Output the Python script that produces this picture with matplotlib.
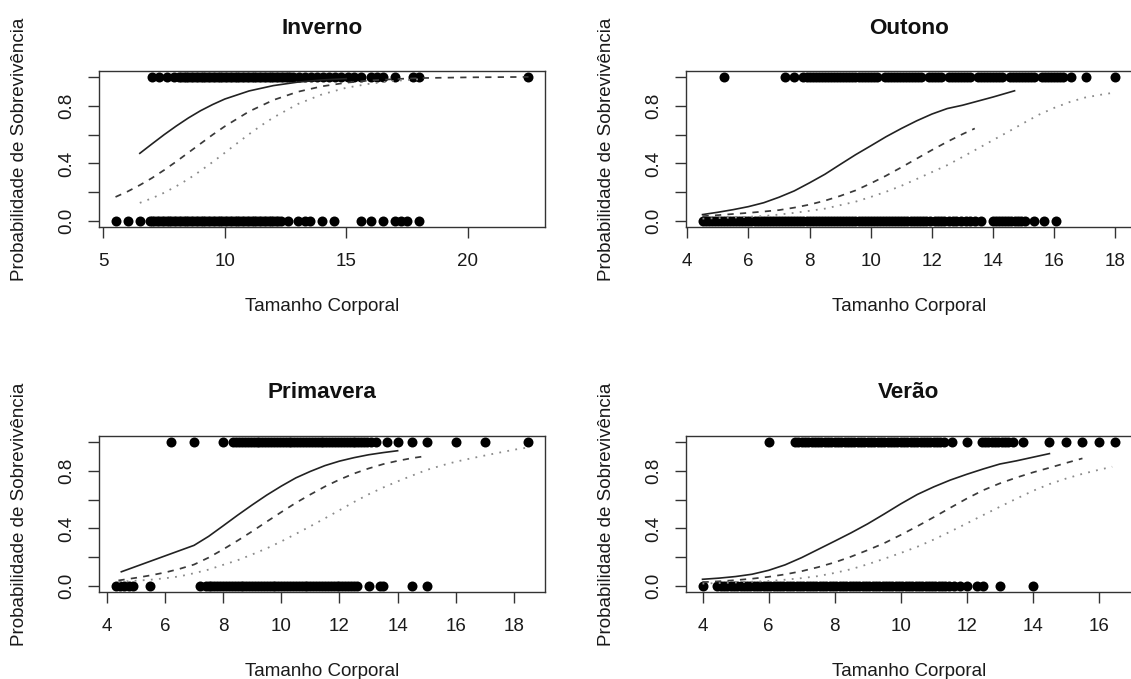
import matplotlib
matplotlib.use("Agg")
import matplotlib.pyplot as plt
import numpy as np

plt.rcParams['font.family'] = ['Liberation Sans', 'DejaVu Sans']
plt.rcParams['font.size'] = 13.5

# ---- Inverno ----
inv_vivos = [7.0, 7.3, 7.6, 7.9,
             8.1, 8.2, 8.3, 8.4, 8.5, 8.6, 8.7, 8.8, 8.9, 9.0, 9.1, 9.2, 9.3, 9.4,
             9.5, 9.6, 9.7, 9.8, 9.9, 10.0, 10.1, 10.2, 10.3, 10.4, 10.5, 10.6, 10.7,
             10.8, 10.9, 11.0, 11.1, 11.2, 11.3, 11.4, 11.5, 11.6, 11.7, 11.8, 11.9,
             12.0, 12.1, 12.2, 12.3, 12.4, 12.5, 12.6, 12.7, 12.8,
             13.05, 13.3, 13.55, 13.8, 14.05, 14.3, 14.55, 14.8, 15.05, 15.3, 15.6,
             16.0, 16.25, 16.5, 17.0, 17.75, 18.0, 22.5]
inv_mortos = [5.5, 6.0, 6.5,
              6.9, 7.0, 7.1, 7.2, 7.3, 7.4, 7.5, 7.6, 7.7, 7.8, 7.9, 8.0, 8.1, 8.2,
              8.3, 8.4, 8.5, 8.6, 8.7, 8.8, 8.9, 9.0, 9.1, 9.2, 9.3, 9.4, 9.5, 9.6,
              9.7, 9.8, 9.9, 10.0, 10.1, 10.2, 10.3, 10.4, 10.5, 10.6, 10.7, 10.8,
              10.9, 11.0, 11.1, 11.2, 11.3, 11.4, 11.5, 11.6, 11.7, 11.8, 11.9, 12.0,
              12.1, 12.2, 12.3,
              12.6, 13.0, 13.3, 13.5, 14.0, 14.5, 15.6, 16.0, 16.5, 17.0, 17.25, 17.5,
              18.0]
inv_x_cheia = [6.5, 7.0, 7.5, 8.0, 8.5, 9.0, 9.5, 10.0, 11.0, 12.0, 13.0, 14.0, 15.0]
inv_y_cheia = [0.470, 0.535, 0.599, 0.659, 0.715, 0.765, 0.808, 0.846, 0.902, 0.939,
               0.963, 0.978, 0.987]
inv_x_trac = [5.5, 6.0, 6.5, 7.0, 7.5, 8.0, 8.5, 9.0, 9.5, 10.0, 11.0, 12.0, 13.0,
              14.0, 15.0, 16.0, 17.0, 18.0, 20.0, 22.5]
inv_y_trac = [0.168, 0.206, 0.250, 0.299, 0.354, 0.413, 0.475, 0.537, 0.599, 0.657,
              0.760, 0.839, 0.896, 0.934, 0.959, 0.975, 0.984, 0.991, 0.996, 0.999]
inv_x_pont = [6.5, 7.0, 7.5, 8.0, 8.5, 9.0, 9.5, 10.0, 10.5, 11.0, 11.5, 12.0, 13.0,
              14.0, 15.0, 16.0, 17.0, 18.0]
inv_y_pont = [0.127, 0.159, 0.197, 0.242, 0.292, 0.349, 0.410, 0.474, 0.539, 0.603,
              0.663, 0.718, 0.811, 0.878, 0.924, 0.953, 0.972, 0.983]

# ---- Outono ----
out_vivos = [5.2, 7.2, 7.5,
             7.8, 7.9, 8.0, 8.1, 8.2, 8.3, 8.4, 8.5, 8.6, 8.7, 8.8, 8.9, 9.0, 9.1,
             9.2, 9.3, 9.4, 9.5, 9.6, 9.7, 9.8, 9.9, 10.0, 10.1, 10.2,
             10.45, 10.55, 10.65, 10.75, 10.85, 10.95, 11.05, 11.15, 11.25, 11.35,
             11.45, 11.55, 11.65,
             11.9, 12.0, 12.1, 12.2, 12.3,
             12.55, 12.65, 12.75, 12.85, 12.95, 13.05, 13.15, 13.25,
             13.5, 13.6, 13.7, 13.8, 13.9, 14.0, 14.1, 14.2, 14.3,
             14.55, 14.65, 14.75, 14.85, 14.95, 15.05, 15.15, 15.25, 15.35,
             15.6, 15.7, 15.8, 15.9, 16.0, 16.1, 16.2, 16.3,
             16.55, 17.05, 18.0]
out_mortos = [4.5, 4.6, 4.7, 4.8, 4.9, 5.0, 5.1, 5.2, 5.3, 5.4, 5.5, 5.6, 5.7, 5.8,
              5.9, 6.0, 6.1, 6.2, 6.3, 6.4, 6.5, 6.6, 6.7, 6.8, 6.9, 7.0, 7.1, 7.2,
              7.3, 7.4, 7.5, 7.6, 7.7, 7.8, 7.9, 8.0, 8.1, 8.2, 8.3, 8.4, 8.5, 8.6,
              8.7, 8.8, 8.9, 9.0, 9.1, 9.2, 9.3, 9.4, 9.5, 9.6, 9.7, 9.8, 9.9, 10.0,
              10.1, 10.2, 10.3, 10.4, 10.5, 10.6, 10.7, 10.8, 10.9, 11.0, 11.1, 11.2,
              11.3, 11.4, 11.5, 11.6, 11.7, 11.8,
              11.95, 12.1, 12.2, 12.3, 12.4, 12.55, 12.7, 12.8, 12.95, 13.1, 13.25,
              13.4, 13.6,
              14.0, 14.1, 14.2, 14.3, 14.4, 14.5, 14.6, 14.7, 14.8, 14.9, 15.05,
              15.35, 15.65, 16.05]
out_x_cheia = [4.5, 5.0, 5.5, 6.0, 6.5, 7.0, 7.5, 8.0, 8.5, 9.0, 9.5, 10.0, 10.5,
               11.0, 11.5, 12.0, 12.5, 13.0, 14.0, 14.7]
out_y_cheia = [0.046, 0.062, 0.080, 0.101, 0.128, 0.166, 0.210, 0.266, 0.325, 0.393,
               0.460, 0.522, 0.585, 0.642, 0.695, 0.742, 0.780, 0.803, 0.860, 0.903]
out_x_trac = [4.5, 5.0, 5.5, 6.0, 6.5, 7.0, 7.5, 8.0, 8.5, 9.0, 9.5, 10.0, 10.5,
              11.0, 11.5, 12.0, 12.5, 13.0, 13.4]
out_y_trac = [0.035, 0.042, 0.050, 0.058, 0.067, 0.077, 0.094, 0.115, 0.142, 0.175,
              0.213, 0.262, 0.315, 0.373, 0.433, 0.493, 0.550, 0.603, 0.642]
out_x_pont = [4.5, 5.5, 6.5, 7.0, 7.5, 8.0, 8.5, 9.0, 9.5, 10.0, 10.5, 11.0, 11.5,
              12.0, 12.5, 13.0, 13.5, 14.0, 14.5, 15.0, 15.5, 16.0, 16.5, 17.0, 17.5,
              18.0]
out_y_pont = [0.018, 0.025, 0.036, 0.046, 0.058, 0.072, 0.087, 0.111, 0.135, 0.168,
              0.204, 0.245, 0.292, 0.340, 0.388, 0.445, 0.503, 0.562, 0.620, 0.680,
              0.738, 0.785, 0.825, 0.856, 0.875, 0.892]

# ---- Primavera ----
pri_vivos = [6.2, 7.0, 8.0,
             8.35, 8.45, 8.55, 8.65, 8.75, 8.85, 8.95, 9.05, 9.15, 9.25, 9.35, 9.45,
             9.55, 9.65, 9.75, 9.85, 9.95, 10.05, 10.15, 10.25, 10.35, 10.45, 10.55,
             10.65, 10.75, 10.85, 10.95, 11.05, 11.15, 11.25, 11.35, 11.45, 11.55,
             11.65, 11.75, 11.85, 11.95, 12.05, 12.15, 12.25, 12.35, 12.45, 12.55,
             12.65, 12.75, 12.85, 12.95, 13.1, 13.25,
             13.65, 14.0, 14.5, 15.0, 16.0, 17.0, 18.5]
pri_mortos = [4.3, 4.45, 4.6, 4.75, 4.9, 5.5, 7.2,
              7.4, 7.5, 7.6, 7.7, 7.8, 7.9, 8.0, 8.1, 8.2, 8.3, 8.4, 8.5, 8.6, 8.7,
              8.8, 8.9, 9.0, 9.1, 9.2, 9.3, 9.4, 9.5, 9.6, 9.7, 9.8, 9.9, 10.0, 10.1,
              10.2, 10.3, 10.4, 10.5, 10.6, 10.7, 10.8, 10.9, 11.0, 11.1, 11.2, 11.3,
              11.4, 11.5, 11.6, 11.7, 11.8, 11.9, 12.0, 12.1, 12.2, 12.3, 12.4, 12.5,
              12.6,
              13.0, 13.4, 13.5, 14.5, 15.0]
pri_x_cheia = [4.5, 7.0, 7.5, 8.0, 8.5, 9.0, 9.5, 10.0, 10.5, 11.0, 11.5, 12.0, 12.5,
               13.0, 13.5, 14.0]
pri_y_cheia = [0.100, 0.283, 0.345, 0.418, 0.492, 0.563, 0.631, 0.693, 0.750, 0.795,
               0.835, 0.866, 0.890, 0.910, 0.925, 0.938]
pri_x_trac = [4.4, 5.0, 5.5, 6.0, 6.5, 7.0, 7.5, 8.0, 8.5, 9.0, 9.5, 10.0, 10.5, 11.0,
              11.5, 12.0, 12.5, 13.0, 13.5, 14.0, 14.5, 14.9]
pri_y_trac = [0.040, 0.058, 0.075, 0.095, 0.120, 0.150, 0.198, 0.255, 0.316, 0.380,
              0.447, 0.513, 0.577, 0.635, 0.690, 0.738, 0.780, 0.815, 0.845, 0.868,
              0.887, 0.899]
pri_x_pont = [4.4, 5.0, 5.5, 6.0, 6.5, 7.0, 7.5, 8.0, 8.5, 9.0, 9.5, 10.0, 10.5, 11.0,
              11.5, 12.0, 12.5, 13.0, 13.5, 14.0, 14.5, 15.0, 15.5, 16.0, 16.5, 17.0,
              17.5, 18.0, 18.5]
pri_y_pont = [0.030, 0.038, 0.045, 0.055, 0.068, 0.090, 0.115, 0.148, 0.180, 0.220,
              0.262, 0.310, 0.362, 0.415, 0.470, 0.526, 0.583, 0.636, 0.683, 0.726,
              0.766, 0.805, 0.835, 0.862, 0.884, 0.905, 0.925, 0.945, 0.961]

# ---- Verão ----
ver_vivos = [6.0,
             6.8, 6.9, 7.0, 7.1, 7.2, 7.3, 7.4, 7.5, 7.6, 7.7, 7.8, 7.9, 8.0, 8.1,
             8.2, 8.3, 8.4, 8.5, 8.6, 8.7, 8.8, 8.9, 9.0, 9.1, 9.2, 9.3, 9.4, 9.5,
             9.6, 9.7, 9.8, 9.9, 10.0, 10.1, 10.2, 10.3, 10.4, 10.5, 10.6, 10.7, 10.8,
             10.9, 11.0, 11.1, 11.2, 11.3,
             11.55, 12.0,
             12.45, 12.55, 12.65, 12.75, 12.85, 12.95, 13.05, 13.15, 13.25, 13.4,
             13.7, 14.5, 15.0, 15.5, 16.0, 16.5]
ver_mortos = [4.0,
              4.45, 4.55, 4.65, 4.75, 4.85, 4.95, 5.05, 5.15, 5.25, 5.35, 5.45, 5.55,
              5.65, 5.75, 5.85, 5.95, 6.05, 6.15, 6.25, 6.35, 6.45, 6.55, 6.65, 6.75,
              6.85, 6.95, 7.05, 7.15, 7.25, 7.35, 7.45, 7.55, 7.65, 7.75, 7.85, 7.95,
              8.05, 8.15, 8.25, 8.35, 8.45, 8.55, 8.65, 8.75, 8.85, 8.95, 9.05, 9.15,
              9.25, 9.35, 9.45, 9.55, 9.65, 9.75, 9.85, 9.95, 10.05, 10.15, 10.25,
              10.35, 10.45, 10.55, 10.65, 10.75, 10.85, 10.95, 11.05, 11.15, 11.25,
              11.35, 11.45, 11.6,
              11.8, 12.0, 12.3, 12.5, 13.0, 14.0]
ver_x_cheia = [4.0, 4.5, 5.0, 5.5, 6.0, 6.5, 7.0, 7.5, 8.0, 8.5, 9.0, 9.5, 10.0, 10.5,
               11.0, 11.5, 12.0, 12.5, 13.0, 13.5, 14.0, 14.5]
ver_y_cheia = [0.048, 0.056, 0.067, 0.083, 0.110, 0.148, 0.198, 0.255, 0.312, 0.370,
               0.432, 0.500, 0.570, 0.635, 0.688, 0.735, 0.775, 0.812, 0.846, 0.868,
               0.893, 0.918]
ver_x_trac = [4.0, 4.5, 5.0, 5.5, 6.0, 6.5, 7.0, 7.5, 8.0, 8.5, 9.0, 9.5, 10.0, 10.5,
              11.0, 11.5, 12.0, 12.5, 13.0, 13.5, 14.0, 14.5, 15.0, 15.5]
ver_y_trac = [0.028, 0.034, 0.042, 0.052, 0.065, 0.082, 0.104, 0.132, 0.165, 0.205,
              0.250, 0.298, 0.355, 0.415, 0.478, 0.543, 0.607, 0.665, 0.712, 0.752,
              0.788, 0.820, 0.853, 0.885]
ver_x_pont = [4.0, 5.0, 6.0, 6.5, 7.0, 7.5, 8.0, 8.5, 9.0, 9.5, 10.0, 10.5, 11.0, 11.5,
              12.0, 12.5, 13.0, 13.5, 14.0, 14.5, 15.0, 15.5, 16.0, 16.4]
ver_y_pont = [0.018, 0.026, 0.036, 0.045, 0.056, 0.070, 0.092, 0.118, 0.152, 0.190,
              0.230, 0.273, 0.323, 0.378, 0.435, 0.493, 0.550, 0.606, 0.660, 0.707,
              0.745, 0.778, 0.806, 0.827]

paineis = [
    ("Inverno", inv_vivos, inv_mortos, (inv_x_cheia, inv_y_cheia),
     (inv_x_trac, inv_y_trac), (inv_x_pont, inv_y_pont), [5, 10, 15, 20]),
    ("Outono", out_vivos, out_mortos, (out_x_cheia, out_y_cheia),
     (out_x_trac, out_y_trac), (out_x_pont, out_y_pont), list(range(4, 19, 2))),
    ("Primavera", pri_vivos, pri_mortos, (pri_x_cheia, pri_y_cheia),
     (pri_x_trac, pri_y_trac), (pri_x_pont, pri_y_pont), list(range(4, 19, 2))),
    ("Verão", ver_vivos, ver_mortos, (ver_x_cheia, ver_y_cheia),
     (ver_x_trac, ver_y_trac), (ver_x_pont, ver_y_pont), list(range(4, 17, 2))),
]

# axes rectangles (left, bottom, width, height) in figure fraction
W, H = 1131, 679
caixas = [
    (99 / W, 1 - 227 / H, 446 / W, 156 / H),
    (686 / W, 1 - 227 / H, 446 / W, 156 / H),
    (99 / W, 1 - 592 / H, 446 / W, 156 / H),
    (686 / W, 1 - 592 / H, 446 / W, 156 / H),
]

fig = plt.figure(figsize=(W / 100, H / 100), dpi=100)
cor_eixo = '#333333'

for (titulo, vivos, mortos, cheia, trac, pont, xticks), caixa in zip(paineis, caixas):
    ax = fig.add_axes(caixa)
    ax.plot(vivos, np.ones(len(vivos)), 'o', color='black', ms=7.2, mew=0, zorder=2)
    ax.plot(mortos, np.zeros(len(mortos)), 'o', color='black', ms=7.2, mew=0, zorder=2)
    ax.plot(*cheia, '-', color='#222222', lw=1.2, zorder=3)
    ax.plot(*trac, color='#3a3a3a', lw=1.25, ls=(0, (3.6, 3.6)), zorder=3)
    ax.plot(*pont, color='#8a8a8a', lw=1.3, ls=(0, (1, 3.5)), zorder=3)

    # R-style 4% padding around the data range
    todos = vivos + mortos
    lo, hi = min(todos), max(todos)
    d = 0.04 * (hi - lo)
    ax.set_xlim(lo - d, hi + d)
    ax.set_ylim(-0.04, 1.04)

    ax.set_xticks(xticks)
    ax.set_xticklabels([str(t) for t in xticks])
    ax.set_yticks([0.0, 0.2, 0.4, 0.6, 0.8, 1.0])
    ax.set_yticklabels(['0.0', '', '0.4', '', '0.8', ''], rotation=90, va='center')
    ax.tick_params(direction='out', length=8, width=1.0, color=cor_eixo,
                   labelsize=13.5, labelcolor='#1a1a1a')
    ax.tick_params(axis='x', pad=11)
    ax.tick_params(axis='y', pad=9)
    for s in ax.spines.values():
        s.set_color(cor_eixo)
        s.set_linewidth(1.0)

    ax.set_title(titulo, fontsize=16.2, fontweight='bold', pad=27, color='#111111')
    ax.annotate('Tamanho Corporal', xy=(0.5, 0), xycoords='axes fraction',
                xytext=(0, -57.5), textcoords='offset points',
                ha='center', va='center', fontsize=13.5, color='#1a1a1a')
    ax.annotate('Probabilidade de Sobrevivência', xy=(0, 0.5), xycoords='axes fraction',
                xytext=(-57, 0), textcoords='offset points', rotation=90,
                ha='center', va='center', fontsize=13.5, color='#1a1a1a')

fig.savefig('out.png', dpi=100)
